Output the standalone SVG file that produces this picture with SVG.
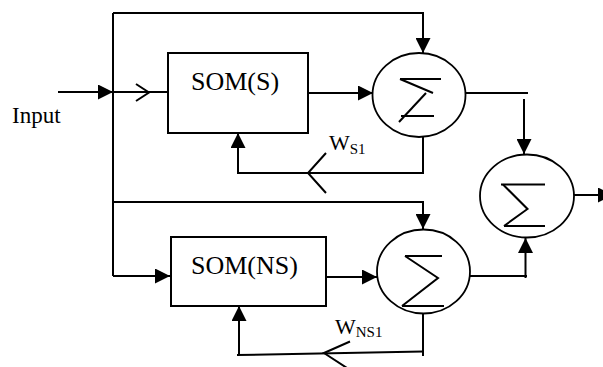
<svg xmlns="http://www.w3.org/2000/svg" width="603" height="367" viewBox="0 0 603 367">
  <style>
    .ln { fill: none; stroke: #000; stroke-width: 2; }
    .box { fill: #fff; stroke: #000; stroke-width: 2; }
    .sum { fill: #fff; stroke: #000; stroke-width: 1.8; }
    .sig { fill: none; stroke: #000; stroke-width: 2; }
    .txt { font-family: "Liberation Serif", "Times New Roman", serif; fill: #000; }
  </style>
  <defs>
    <marker id="arrow" markerUnits="userSpaceOnUse" markerWidth="15" markerHeight="15" refX="15" refY="7.5" orient="auto">
      <path d="M0,0 L15,7.5 L0,15 z" fill="#000"/>
    </marker>
  </defs>

  <!-- connectors -->
  <g id="connectors">
    <!-- input line -->
    <line class="ln" x1="58" y1="92" x2="113" y2="92" marker-end="url(#arrow)"/>
    <line class="ln" x1="113" y1="92" x2="170" y2="92"/>
    <polyline class="ln" points="136,84 149,92.5 136,101"/>
    <!-- main vertical bus -->
    <line class="ln" x1="113" y1="13" x2="113" y2="276"/>
    <!-- bypass to upper sum -->
    <polyline class="ln" points="113,13 423,13 423,53" marker-end="url(#arrow)"/>
    <!-- bypass to lower sum -->
    <polyline class="ln" points="113,202 423,202 423,229" marker-end="url(#arrow)"/>
    <!-- bus to SOM(NS) -->
    <polyline class="ln" points="113,276 170,276" marker-end="url(#arrow)"/>
    <!-- SOM outputs into sums -->
    <line class="ln" x1="308" y1="93" x2="373" y2="93" marker-end="url(#arrow)"/>
    <line class="ln" x1="326" y1="277" x2="377" y2="277" marker-end="url(#arrow)"/>
    <!-- upper feedback W_S1 -->
    <polyline class="ln" points="423,137 423,173 238,173 238,133" marker-end="url(#arrow)"/>
    <polyline class="ln" points="326,153 308,173 326,193"/>
    <!-- lower feedback W_NS1 -->
    <polyline class="ln" points="423,314 423,356"/>
    <line class="ln" x1="423" y1="351.5" x2="237" y2="355"/>
    <polyline class="ln" points="239,355 239,306" marker-end="url(#arrow)"/>
    <polyline class="ln" points="350,341.5 324,353 347,368"/>
    <!-- sums into output sum -->
    <line class="ln" x1="466" y1="93" x2="528" y2="93"/>
    <line class="ln" x1="524" y1="99" x2="524" y2="154" marker-end="url(#arrow)"/>
    <line class="ln" x1="470" y1="276" x2="527" y2="276"/>
    <line class="ln" x1="525.5" y1="278" x2="525.5" y2="238" marker-end="url(#arrow)"/>
    <!-- output -->
    <line class="ln" x1="574" y1="195" x2="613" y2="195" marker-end="url(#arrow)"/>
  </g>

  <g id="input-label">
    <text class="txt" x="12" y="123" font-size="23">Input</text>
  </g>

  <g id="som-s">
    <rect class="box" x="168" y="53" width="140" height="80"/>
    <text class="txt" x="191" y="90" font-size="26">SOM(S)</text>
  </g>

  <g id="som-ns">
    <rect class="box" x="171" y="237" width="155" height="69"/>
    <text class="txt" x="191" y="274" font-size="26">SOM(NS)</text>
  </g>

  <g id="sum-s">
    <ellipse class="sum" cx="419" cy="95" rx="46.5" ry="42"/>
    <line class="sig" x1="400" y1="79" x2="441" y2="79"/>
    <line class="sig" x1="400" y1="79" x2="433" y2="93"/>
    <line class="sig" x1="426" y1="93" x2="399" y2="122"/>
    <line class="sig" x1="401" y1="116" x2="434" y2="116"/>
  </g>

  <g id="sum-ns">
    <ellipse class="sum" cx="423.5" cy="271.5" rx="46.5" ry="42"/>
    <line class="sig" x1="405" y1="256" x2="442" y2="256"/>
    <polyline class="sig" points="405,256 438,278 402,306"/>
    <line class="sig" x1="402" y1="306" x2="444" y2="306"/>
  </g>

  <g id="sum-out">
    <ellipse class="sum" cx="527" cy="196" rx="47" ry="41.5"/>
    <line class="sig" x1="501" y1="184.5" x2="545" y2="184.5"/>
    <polyline class="sig" points="503,184.5 527.5,209 504,226"/>
    <line class="sig" x1="504" y1="226" x2="545" y2="226"/>
  </g>

  <g id="weight-s1">
    <text class="txt" x="329" y="150" font-size="22">W<tspan font-size="15" dy="4">S1</tspan></text>
  </g>

  <g id="weight-ns1">
    <text class="txt" x="335" y="334" font-size="22">W<tspan font-size="15" dy="3">NS1</tspan></text>
  </g>
</svg>
